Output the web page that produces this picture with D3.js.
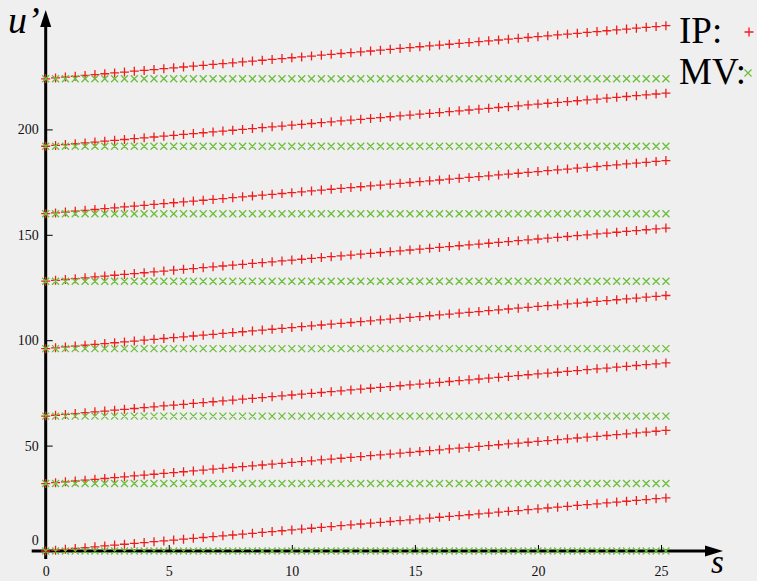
<!DOCTYPE html>
<html>
<head>
<meta charset="utf-8">
<script src="https://cdn.jsdelivr.net/npm/d3@7"></script>
<style>
  html, body { margin: 0; padding: 0; background: #efefef; }
  svg { display: block; }
</style>
</head>
<body>
<svg id="chart" width="757" height="581"></svg>
<script>
// Sample positions along s
const sValues = [
  0.0, 0.4, 0.8, 1.2, 1.6, 2.0, 2.4, 2.8, 3.2, 3.6, 4.0, 4.4, 4.8, 5.2, 5.6, 6.0,
  6.4, 6.8, 7.2, 7.6, 8.0, 8.4, 8.8, 9.2, 9.6, 10.0, 10.4, 10.8, 11.2, 11.6, 12.0, 12.4,
  12.8, 13.2, 13.6, 14.0, 14.4, 14.8, 15.2, 15.6, 16.0, 16.4, 16.8, 17.2, 17.6, 18.0, 18.4, 18.8,
  19.2, 19.6, 20.0, 20.4, 20.8, 21.2, 21.6, 22.0, 22.4, 22.8, 23.2, 23.6, 24.0, 24.4, 24.8, 25.2
];
// Rise of the IP branch above its band start, per sample
const ipRise = [
  0.0, 0.4, 0.8, 1.2, 1.6, 2.0, 2.4, 2.8, 3.2, 3.6, 4.0, 4.4, 4.8, 5.2, 5.6, 6.0,
  6.4, 6.8, 7.2, 7.6, 8.0, 8.4, 8.8, 9.2, 9.6, 10.0, 10.4, 10.8, 11.2, 11.6, 12.0, 12.4,
  12.8, 13.2, 13.6, 14.0, 14.4, 14.8, 15.2, 15.6, 16.0, 16.4, 16.8, 17.2, 17.6, 18.0, 18.4, 18.8,
  19.2, 19.6, 20.0, 20.4, 20.8, 21.2, 21.6, 22.0, 22.4, 22.8, 23.2, 23.6, 24.0, 24.4, 24.8, 25.2
];
// Band levels of u'
const bandLevels = [0, 32, 64, 96, 128, 160, 192, 224];
// Axis ticks
const xTicks = [0, 5, 10, 15, 20, 25];
const yTicks = [0, 50, 100, 150, 200];
const seriesNames = ["IP:", "MV:"];
const seriesColors = ["#f01c1c", "#6cbf3c"];

const svg = d3.select("#chart");
const W = 757, H = 581;
const serif = "'Liberation Serif', 'Times New Roman', Times, 'DejaVu Serif', serif";

svg.append("rect").attr("width", W).attr("height", H).attr("fill", "#efefef");

const x = d3.scaleLinear().domain([0, 25]).range([45.7, 661]);
const y = d3.scaleLinear().domain([0, 250]).range([551, 24]);

// Build point sets from the arrays
const ipPoints = [];
const mvPoints = [];
bandLevels.forEach(b => {
  sValues.forEach((s, i) => {
    ipPoints.push({ s: s, u: b + ipRise[i] });
    mvPoints.push({ s: s, u: b });
  });
});

// Axes with arrows
const axisColor = "#000";
const x0 = x(0), y0 = y(0);
svg.append("line")
  .attr("x1", x0).attr("x2", x0).attr("y1", y0 + 8).attr("y2", 22)
  .attr("stroke", axisColor).attr("stroke-width", 3);
svg.append("path")
  .attr("d", `M${x0},10 L${x0 - 5.5},27 L${x0 + 5.5},27 Z`)
  .attr("fill", axisColor);
svg.append("line")
  .attr("x1", x0 - 14).attr("x2", 710).attr("y1", y0).attr("y2", y0)
  .attr("stroke", axisColor).attr("stroke-width", 3);
svg.append("path")
  .attr("d", `M723,${y0} L705,${y0 - 5.5} L705,${y0 + 5.5} Z`)
  .attr("fill", axisColor);

// X ticks point upward from the axis
const gx = svg.append("g")
  .attr("transform", `translate(0,${y0})`)
  .call(d3.axisBottom(x).tickValues(xTicks).tickSize(-6).tickPadding(15).tickFormat(d3.format("d")));
gx.select(".domain").remove();
gx.selectAll(".tick line").attr("stroke", "#000").attr("stroke-width", 1);
gx.selectAll(".tick text")
  .style("font-family", serif).style("font-size", "14px").attr("fill", "#111");

// Y ticks point right from the axis
const gy = svg.append("g")
  .attr("transform", `translate(${x0},0)`)
  .call(d3.axisLeft(y).tickValues(yTicks).tickSize(-7).tickPadding(7).tickFormat(d3.format("d")));
gy.select(".domain").remove();
gy.selectAll(".tick line").attr("stroke", "#000").attr("stroke-width", 1);
gy.selectAll(".tick text")
  .style("font-family", serif).style("font-size", "14px").attr("fill", "#111");
gy.selectAll(".tick").filter(d => d === 0).select("text").attr("y", -11);

// Marker shapes
function plusPath(cx, cy, r) {
  return `M${cx - r},${cy}H${cx + r}M${cx},${cy - r}V${cy + r}`;
}
function crossPath(cx, cy, r) {
  return `M${cx - r},${cy - r}L${cx + r},${cy + r}M${cx - r},${cy + r}L${cx + r},${cy - r}`;
}

svg.append("path")
  .attr("d", ipPoints.map(p => plusPath(x(p.s), y(p.u), 4.5)).join(""))
  .attr("fill", "none").attr("stroke", seriesColors[0]).attr("stroke-width", 1.3);

svg.append("path")
  .attr("d", mvPoints.map(p => crossPath(x(p.s), y(p.u), 3.5)).join(""))
  .attr("fill", "none").attr("stroke", seriesColors[1]).attr("stroke-width", 1.3);

// Axis titles
svg.append("text")
  .attr("x", 8).attr("y", 33)
  .style("font-family", serif).style("font-style", "italic").style("font-size", "38px")
  .attr("fill", "#000").text("u’");
svg.append("text")
  .attr("x", 711).attr("y", 573)
  .style("font-family", serif).style("font-style", "italic").style("font-size", "33px")
  .attr("fill", "#000").text("s");

// Legend
const legendY = [43, 84];
const markY = [32, 73];
seriesNames.forEach((name, i) => {
  svg.append("text")
    .attr("x", 679).attr("y", legendY[i])
    .style("font-family", serif).style("font-size", "37px")
    .attr("fill", "#000").text(name);
});
svg.append("path")
  .attr("d", plusPath(749, markY[0], 4.5))
  .attr("fill", "none").attr("stroke", seriesColors[0]).attr("stroke-width", 1.3);
svg.append("path")
  .attr("d", crossPath(748, markY[1], 3.5))
  .attr("fill", "none").attr("stroke", seriesColors[1]).attr("stroke-width", 1.3);
</script>
</body>
</html>
